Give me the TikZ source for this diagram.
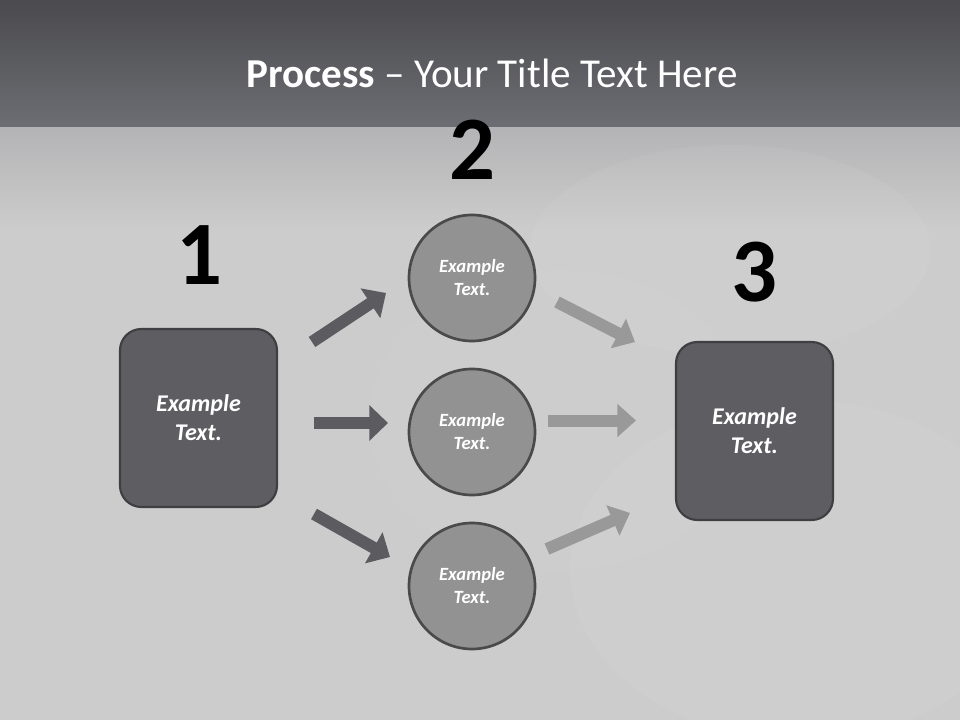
\documentclass[tikz,border=0pt]{standalone}
\usepackage{fontspec}
\setmainfont{Carlito}
\usetikzlibrary{arrows.meta}
\definecolor{bandtop}{HTML}{4A4A4F}
\definecolor{bandbot}{HTML}{6D6E73}
\definecolor{floortop}{HTML}{B4B4B6}
\definecolor{floorbot}{HTML}{CCCCCC}
\definecolor{boxfill}{HTML}{5D5D62}
\definecolor{boxline}{HTML}{3F3F42}
\definecolor{circfill}{HTML}{929292}
\definecolor{circline}{HTML}{4A4A4A}
\definecolor{darkarr}{HTML}{5B5B60}
\definecolor{lightarr}{HTML}{999999}
\begin{document}
\begin{tikzpicture}[x=0.75pt,y=-0.75pt,
    stepbox/.style={draw=boxline,line width=1.6pt,fill=boxfill,rounded corners=16pt,
      minimum width=117.75pt,minimum height=133.5pt,text=white,align=center,
      font=\fontsize{18}{21.75}\selectfont\bfseries\itshape},
    stepcirc/.style={circle,draw=circline,line width=2pt,fill=circfill,minimum size=94.5pt,
      inner sep=0pt,text=white,align=center,
      font=\fontsize{14}{17.25}\selectfont\bfseries\itshape},
    stepnum/.style={anchor=base,font=\fontsize{68}{68}\selectfont\bfseries},
    darkarrow/.style={line width=9pt,draw=darkarr,-{Triangle[length=14pt,width=26pt]}},
    lightarrow/.style={line width=9pt,draw=lightarr,-{Triangle[length=14pt,width=24pt]}}]
  \useasboundingbox (0,0) rectangle (960,720);
  \shade[top color=bandtop,bottom color=bandbot] (0,0) rectangle (960,128);
  \shade[top color=floortop,bottom color=floorbot] (0,128) rectangle (960,230);
  \fill[floorbot] (0,230) rectangle (960,720);
  \fill[white,opacity=0.05] (730,250) ellipse (200 and 105);
  \fill[white,opacity=0.04] (800,570) ellipse (230 and 170);
  \fill[white,opacity=0.03] (560,420) ellipse (190 and 150);
  \node[anchor=base,text=white,font=\fontsize{30.8}{36}\selectfont] (title) at (492,88)
    {\textbf{Process} -- Your Title Text Here};
  \node[stepnum] (n1) at (199,285) {1};
  \node[stepnum] (n2) at (472,180) {2};
  \node[stepnum] (n3) at (754,301) {3};
  \node[stepbox] (b1) at (198.5,418) {Example\\Text.};
  \node[stepbox] (b3) at (754.5,431) {Example\\Text.};
  \node[stepcirc] (c1) at (472,278) {Example\\Text.};
  \node[stepcirc] (c2) at (472,432) {Example\\Text.};
  \node[stepcirc] (c3) at (472,586) {Example\\Text.};
  \coordinate (l1s) at (312,342);
  \coordinate (l1e) at (386,293);
  \coordinate (l2s) at (314,423);
  \coordinate (l2e) at (388,423);
  \coordinate (l3s) at (314,514);
  \coordinate (l3e) at (390,557);
  \coordinate (r1s) at (557,302);
  \coordinate (r1e) at (635,342);
  \coordinate (r2s) at (548,420.5);
  \coordinate (r2e) at (636,420.5);
  \coordinate (r3s) at (547,549);
  \coordinate (r3e) at (630,513);
  \draw[darkarrow] (l1s) -- (l1e);
  \draw[darkarrow] (l2s) -- (l2e);
  \draw[darkarrow] (l3s) -- (l3e);
  \draw[lightarrow] (r1s) -- (r1e);
  \draw[lightarrow] (r2s) -- (r2e);
  \draw[lightarrow] (r3s) -- (r3e);
\end{tikzpicture}
\end{document}
